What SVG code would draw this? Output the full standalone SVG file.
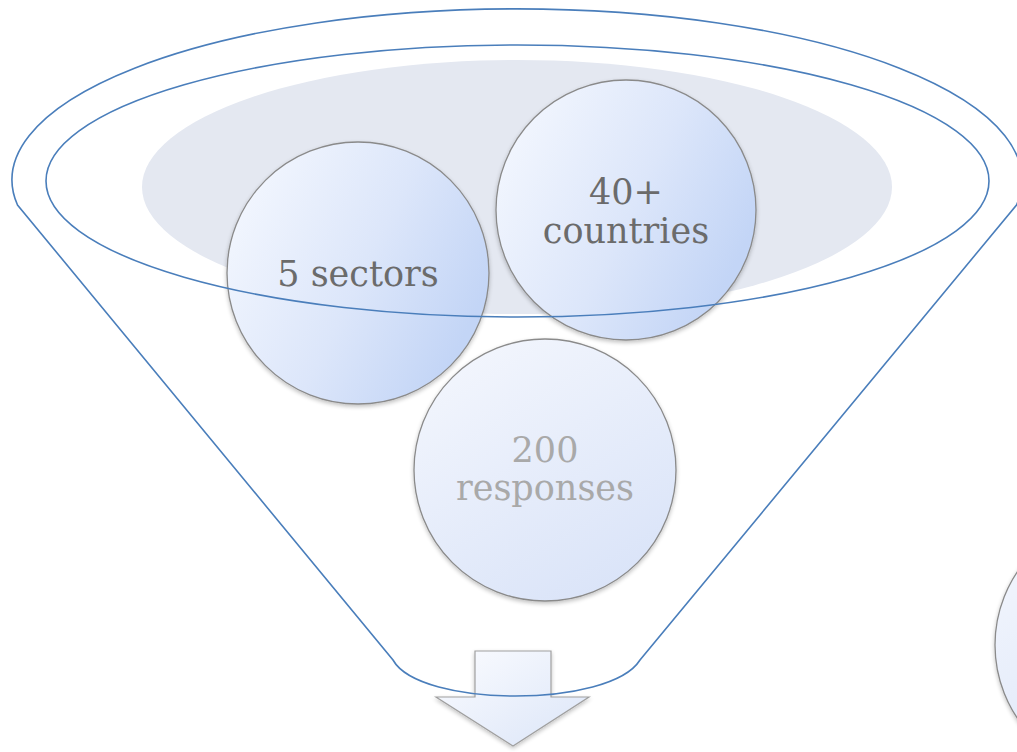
<svg xmlns="http://www.w3.org/2000/svg" width="1017" height="752" viewBox="0 0 1017 752">
<style>
.funnel{fill:none;stroke:#4a7ebb;stroke-width:1.6}
.bubble{stroke:#8a8a8a;stroke-width:1.3}
.lbl{font-family:"DejaVu Serif","Liberation Serif",serif;font-size:35px;text-anchor:middle}
.dark{fill:#6b6b6b}
.light{fill:#a9a9a9}
</style>
<defs>
<linearGradient id="gBub" x1="0.1" y1="0.1" x2="1" y2="0.55">
<stop offset="0" stop-color="#f2f6fe"/>
<stop offset="0.55" stop-color="#dce6fa"/>
<stop offset="1" stop-color="#c3d5f6"/>
</linearGradient>
<linearGradient id="gBub2" x1="0.2" y1="0" x2="0.8" y2="1">
<stop offset="0" stop-color="#f3f6fd"/>
<stop offset="1" stop-color="#d9e3f8"/>
</linearGradient>
<linearGradient id="gArrow" x1="0" y1="0" x2="1" y2="1">
<stop offset="0" stop-color="#fbfcff"/>
<stop offset="1" stop-color="#dbe5f8"/>
</linearGradient>
<filter id="sh" x="-10%" y="-10%" width="120%" height="125%">
<feGaussianBlur in="SourceAlpha" stdDeviation="2"/>
<feOffset dx="0" dy="2" result="b"/>
<feComponentTransfer><feFuncA type="linear" slope="0.25"/></feComponentTransfer>
<feMerge><feMergeNode/><feMergeNode in="SourceGraphic"/></feMerge>
</filter>
</defs>
<rect width="1017" height="752" fill="#ffffff"/>
<g id="arrow">
<path d="M475,651 L551,651 L551,697 L589,697 L513,746 L436,697 L475,697 Z" fill="url(#gArrow)" stroke="#a0a0a0" stroke-width="1.2" filter="url(#sh)"/>
</g>
<g id="funnel-base">
<ellipse cx="517" cy="187" rx="375" ry="127" fill="#e4e8f1"/>
</g>
<g id="node-sectors">
<circle cx="358" cy="273" r="131" class="bubble" fill="url(#gBub)" filter="url(#sh)"/>
<text x="358" y="286" class="lbl dark">5 sectors</text>
</g>
<g id="node-countries">
<circle cx="626" cy="210" r="130" class="bubble" fill="url(#gBub)" filter="url(#sh)"/>
<text x="626" y="204" class="lbl dark">40+</text>
<text x="626" y="243" class="lbl dark">countries</text>
</g>
<g id="node-responses">
<circle cx="545" cy="470" r="131" class="bubble" fill="url(#gBub2)" filter="url(#sh)"/>
<text x="545" y="462" class="lbl light">200</text>
<text x="545" y="500" class="lbl light">responses</text>
</g>
<g id="node-right">
<circle cx="1126" cy="645" r="131" class="bubble" fill="url(#gBub2)" filter="url(#sh)"/>
</g>
<g id="connectors">
<path class="funnel" d="M17.5,205 A505,171 0 1 1 1016.5,205 L640,660 C610,708 420,708 393,660 Z"/>
<ellipse class="funnel" cx="517.5" cy="181" rx="471.5" ry="136"/>
</g>
</svg>
